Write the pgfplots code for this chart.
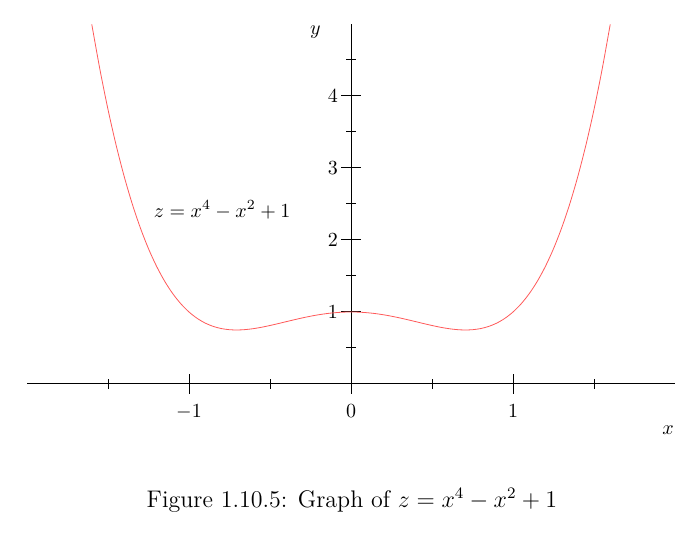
\documentclass[border=0pt]{standalone}
\usepackage{pgfplots}
\pgfplotsset{compat=1.18}
\begin{document}
\begin{tikzpicture}
\useasboundingbox (0,0) rectangle (350pt,266.5pt);
\begin{axis}[
  at={(175.5pt,74.5pt)}, anchor=origin,
  x=81pt, y=36pt,
  xmin=-2, xmax=2, ymin=0, ymax=5,
  axis lines=middle,
  axis line style={-, line width=0.5pt},
  xtick={-1,0,1}, minor xtick={-1.5,-0.5,0.5,1.5},
  ytick={1,2,3,4}, minor ytick={0.5,1.5,2.5,3.5,4.5},
  hide obscured x ticks=false,
  hide obscured y ticks=false,
  tick align=center,
  major tick length=10pt, minor tick length=5pt,
  every tick/.style={black, line width=0.5pt},
  xticklabel style={yshift=-2pt},
  yticklabel style={xshift=2pt},
  clip=false,
]
\addplot[red!65, line width=0.4pt, smooth] coordinates {
(-1.60,4.9936) (-1.55,4.3695) (-1.50,3.8125) (-1.45,3.3180) (-1.40,2.8816)
(-1.35,2.4990) (-1.30,2.1661) (-1.25,1.8789) (-1.20,1.6336) (-1.15,1.4265)
(-1.10,1.2541) (-1.05,1.1130) (-1.00,1.0000) (-0.95,0.9120) (-0.90,0.8461)
(-0.85,0.7995) (-0.80,0.7696) (-0.75,0.7539) (-0.70,0.7501) (-0.65,0.7560)
(-0.60,0.7696) (-0.55,0.7890) (-0.50,0.8125) (-0.45,0.8385) (-0.40,0.8656)
(-0.35,0.8925) (-0.30,0.9181) (-0.25,0.9414) (-0.20,0.9616) (-0.15,0.9780)
(-0.10,0.9901) (-0.05,0.9975) (0.00,1.0000) (0.05,0.9975) (0.10,0.9901)
(0.15,0.9780) (0.20,0.9616) (0.25,0.9414) (0.30,0.9181) (0.35,0.8925)
(0.40,0.8656) (0.45,0.8385) (0.50,0.8125) (0.55,0.7890) (0.60,0.7696)
(0.65,0.7560) (0.70,0.7501) (0.75,0.7539) (0.80,0.7696) (0.85,0.7995)
(0.90,0.8461) (0.95,0.9120) (1.00,1.0000) (1.05,1.1130) (1.10,1.2541)
(1.15,1.4265) (1.20,1.6336) (1.25,1.8789) (1.30,2.1661) (1.35,2.4990)
(1.40,2.8816) (1.45,3.3180) (1.50,3.8125) (1.55,4.3695) (1.60,4.9936)
};
\node at (axis cs:-0.796,2.42) {$z = x^4 - x^2 + 1$};
\node at (axis cs:1.957,-0.64) {$x$};
\node at (axis cs:-0.22,4.89) {$y$};
\end{axis}
\node[font=\large] at (176pt,16.5pt) {Figure 1.10.5: Graph of $z = x^4 - x^2 + 1$};
\end{tikzpicture}
\end{document}
